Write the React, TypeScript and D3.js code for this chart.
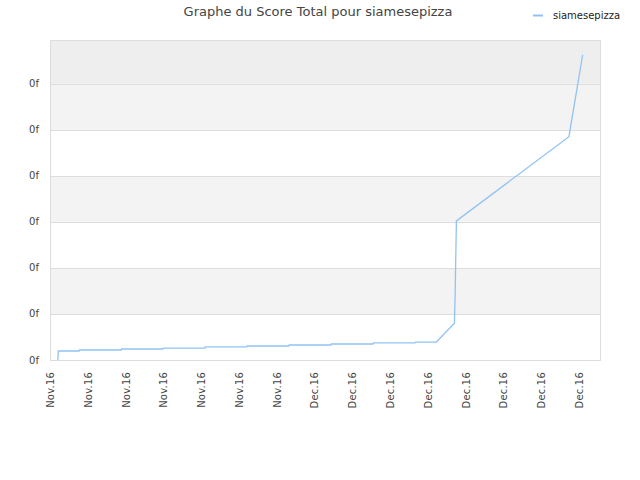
import React, { useEffect, useRef } from 'react';
import * as d3 from 'd3';

const WIDTH = 640;
const HEIGHT = 480;
const MARGIN = { top: 40, right: 40, bottom: 120, left: 50 };

const TITLE = 'Graphe du Score Total pour siamesepizza';
const SERIES_NAME = 'siamesepizza';

// timestamps of the score snapshots
const pointDates = [
  '2016-11-04T02:00', '2016-11-04T03:00',
  '2016-11-06T08:00', '2016-11-06T09:00',
  '2016-11-10T19:00', '2016-11-10T20:00',
  '2016-11-15T05:00', '2016-11-15T06:00',
  '2016-11-19T16:00', '2016-11-19T17:00',
  '2016-11-24T02:00', '2016-11-24T03:00',
  '2016-11-28T13:00', '2016-11-28T14:00',
  '2016-12-03T00:00', '2016-12-03T01:00',
  '2016-12-07T11:00', '2016-12-07T12:00',
  '2016-12-11T22:00', '2016-12-11T23:00',
  '2016-12-14T04:00',
  '2016-12-16T02:00', '2016-12-16T04:00', '2016-12-16T07:00',
  '2016-12-28T05:00',
  '2016-12-29T16:00',
];
const pointScores = [
  0.0, 0.196,
  0.196, 0.217,
  0.217, 0.239,
  0.239, 0.26,
  0.26, 0.283,
  0.283, 0.304,
  0.304, 0.326,
  0.326, 0.348,
  0.348, 0.37,
  0.37, 0.39,
  0.39,
  0.8, 1.52, 3.02,
  4.85,
  6.63,
];

const tickDates = [
  '2016-11-04', '2016-11-08', '2016-11-12', '2016-11-16', '2016-11-20',
  '2016-11-24', '2016-11-28', '2016-12-02', '2016-12-06', '2016-12-10',
  '2016-12-14', '2016-12-18', '2016-12-22', '2016-12-26', '2016-12-30',
];
const yTicks = [0, 1, 2, 3, 4, 5, 6];
const monthNames = ['Jan', 'Feb', 'Mar', 'Apr', 'May', 'Jun', 'Jul', 'Aug', 'Sep', 'Oct', 'Nov', 'Dec'];

const FONT = '"DejaVu Sans", Verdana, sans-serif';
const LINE_COLOR = '#90c3f3';

const App: React.FC = () => {
  const svgRef = useRef<SVGSVGElement>(null);

  useEffect(() => {
    const svg = d3.select(svgRef.current);
    svg.selectAll('*').remove();

    const chartWidth = WIDTH - MARGIN.left - MARGIN.right;
    const chartHeight = HEIGHT - MARGIN.top - MARGIN.bottom;

    const parse = (s: string) => new Date(s);
    const data = pointDates.map((d, i) => ({ date: parse(d), value: pointScores[i] }));
    const ticks = tickDates.map(parse);

    const xScale = d3.scaleTime()
      .domain([parse('2016-11-03T06:00'), parse('2016-12-31T12:00')])
      .range([0, chartWidth]);

    const yScale = d3.scaleLinear()
      .domain([0, 6.95])
      .range([chartHeight, 0]);

    svg.append('rect').attr('width', WIDTH).attr('height', HEIGHT).attr('fill', '#fff');

    const g = svg.append('g').attr('transform', `translate(${MARGIN.left},${MARGIN.top})`);

    // Background bands
    const bands = [...yTicks, 6.95];
    for (let i = 0; i < bands.length - 1; i++) {
      const fill = i === 6 ? '#eeeeee' : i % 2 === 1 ? '#f3f3f3' : '#ffffff';
      g.append('rect')
        .attr('x', 0)
        .attr('width', chartWidth)
        .attr('y', yScale(bands[i + 1]))
        .attr('height', yScale(bands[i]) - yScale(bands[i + 1]))
        .attr('fill', fill);
    }

    // Grid lines
    g.selectAll('.grid')
      .data(yTicks)
      .enter().append('line')
      .attr('x1', 0)
      .attr('x2', chartWidth)
      .attr('y1', d => Math.round(yScale(d)) + 0.5)
      .attr('y2', d => Math.round(yScale(d)) + 0.5)
      .attr('stroke', '#dddddd');

    // Frame
    g.append('rect')
      .attr('x', 0.5)
      .attr('y', 0.5)
      .attr('width', chartWidth)
      .attr('height', chartHeight)
      .attr('fill', 'none')
      .attr('stroke', '#dddddd');

    // Y labels
    g.selectAll('.ylabel')
      .data(yTicks)
      .enter().append('text')
      .attr('x', -11)
      .attr('y', d => yScale(d))
      .attr('dy', '0.35em')
      .attr('text-anchor', 'end')
      .style('font-family', FONT)
      .style('font-size', '10px')
      .style('fill', '#444')
      .text('0f');

    // X labels
    g.selectAll('.xlabel')
      .data(ticks)
      .enter().append('text')
      .attr('transform', d => `translate(${xScale(d) - 3},${chartHeight + 12}) rotate(-90)`)
      .attr('text-anchor', 'end')
      .style('font-family', FONT)
      .style('font-size', '10px')
      .style('letter-spacing', '0.2px')
      .style('fill', '#444')
      .text(d => `${monthNames[d.getMonth()]}.${String(d.getFullYear()).slice(2)}`);

    // Line
    const line = d3.line<{ date: Date; value: number }>()
      .x(d => xScale(d.date))
      .y(d => yScale(d.value));

    g.append('path')
      .datum(data)
      .attr('fill', 'none')
      .attr('stroke', LINE_COLOR)
      .attr('stroke-width', 1.3)
      .attr('d', line);

    // Title
    svg.append('text')
      .attr('x', 318)
      .attr('y', 16)
      .attr('text-anchor', 'middle')
      .style('font-family', FONT)
      .style('font-size', '13px')
      .style('fill', '#444')
      .text(TITLE);

    // Legend
    svg.append('line')
      .attr('x1', 533)
      .attr('x2', 543)
      .attr('y1', 15.5)
      .attr('y2', 15.5)
      .attr('stroke', LINE_COLOR)
      .attr('stroke-width', 2);

    svg.append('text')
      .attr('x', 553)
      .attr('y', 15)
      .attr('dy', '0.35em')
      .style('font-family', FONT)
      .style('font-size', '10px')
      .style('fill', '#222')
      .text(SERIES_NAME);
  }, []);

  return (
    <svg
      ref={svgRef}
      width={WIDTH}
      height={HEIGHT}
      style={{ position: 'absolute', left: 0, top: 0 }}
    />
  );
};

export default App;
